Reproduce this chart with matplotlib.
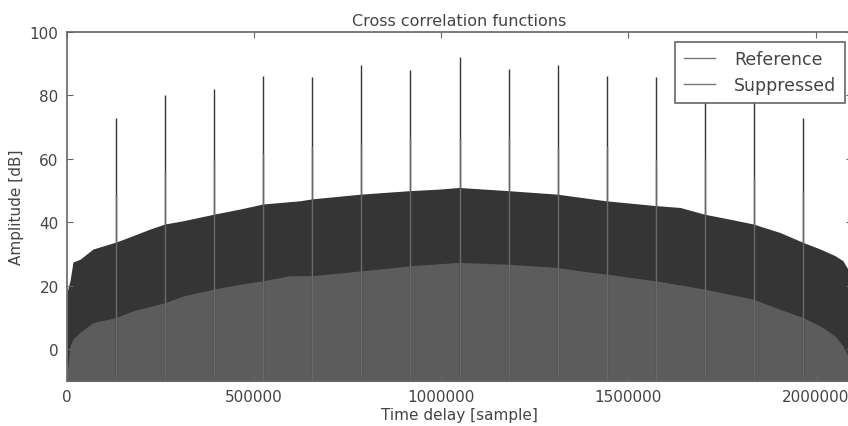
import matplotlib.pyplot as plt

# peak positions (multiples of 131072 samples) and heights in dB
peak_pos = [131072 * k for k in range(1, 16)]
ref_peaks = [72.8, 80.0, 82.0, 86.0, 85.8, 89.6, 88.0, 92.1, 88.2, 89.6, 86.0, 85.8, 82.0, 80.0, 72.8]
sup_peaks = [49.0, 56.0, 59.5, 62.0, 64.0, 64.6, 66.8, 66.6, 67.0, 63.5, 64.2, 59.5, 60.0, 54.0, 50.0]

# upper edge of the noise floor of each curve
ref_x = [0, 8000, 16000, 35000, 69500, 131000, 176000, 222000, 262000, 310000, 393000,
         462000, 524000, 622000, 654000, 785000, 916000, 996000, 1047000, 1178000,
         1309000, 1440000, 1571000, 1638000, 1702000, 1771000, 1833000, 1905000,
         1966000, 2012000, 2052000, 2073000, 2086000, 2097000]
ref_y = [18.0, 21.6, 27.5, 28.4, 31.6, 33.8, 35.8, 37.9, 39.5, 40.5, 42.6,
         44.2, 45.8, 46.8, 47.4, 48.9, 50.0, 50.5, 51.0, 50.0,
         48.9, 46.8, 45.3, 44.7, 42.6, 41.0, 39.5, 36.8,
         33.7, 31.6, 29.5, 27.9, 25.3, 18.0]

sup_x = [0, 8000, 16000, 35000, 69500, 131000, 176000, 262000, 310000, 393000, 462000,
         524000, 596000, 654000, 785000, 916000, 1047000, 1178000, 1309000, 1371000,
         1440000, 1571000, 1702000, 1833000, 1905000, 1966000, 2012000, 2052000,
         2073000, 2086000, 2097000]
sup_y = [-8.0, 1.0, 3.2, 5.4, 8.4, 10.0, 12.1, 14.7, 16.8, 19.0, 20.5,
         21.6, 23.2, 23.2, 24.7, 26.3, 27.4, 26.8, 25.8, 24.7,
         23.7, 21.6, 19.0, 15.8, 12.6, 10.0, 7.4, 4.2,
         1.0, -2.0, -8.0]

ref_color = '#353535'
sup_color = '#5c5c5c'
text_color = '#444444'
edge_color = '#666666'
floor = -20

fig = plt.figure(figsize=(8.48, 4.27), dpi=100)
ax = fig.add_axes([67 / 848, 45 / 427, 785 / 848, 349 / 427])

ax.fill_between(ref_x, floor, ref_y, color=ref_color, linewidth=0)
ax.vlines(peak_pos, floor, ref_peaks, color=ref_color, linewidth=1.0)
ax.fill_between(sup_x, floor, sup_y, color=sup_color, linewidth=0)
ax.vlines(peak_pos, floor, sup_peaks, color='#6a6a6a', linewidth=1.0)

# legend handles
ax.plot([], [], color='#777777', linewidth=1, label='Reference')
ax.plot([], [], color='#777777', linewidth=1, label='Suppressed')

ax.set_xlim(0, 2097152)
ax.set_ylim(-10, 100)
ax.set_xticks([0, 500000, 1000000, 1500000, 2000000])
ax.set_yticks([0, 20, 40, 60, 80, 100])
ax.ticklabel_format(axis='x', style='plain', useOffset=False)
ax.tick_params(direction='in', top=True, right=True, length=4, color=edge_color,
               labelsize=11, labelcolor=text_color, pad=6)
for sp in ax.spines.values():
    sp.set_color(edge_color)
    sp.set_linewidth(1.2)

ax.set_title('Cross correlation functions', fontsize=11.5, color=text_color, pad=5)
ax.set_xlabel('Time delay [sample]', fontsize=11, color=text_color, labelpad=2)
ax.set_ylabel('Amplitude [dB]', fontsize=11, color=text_color, labelpad=4)

leg = ax.legend(loc='upper right', bbox_to_anchor=(845 / 848, 1 - 42.5 / 427),
                bbox_transform=fig.transFigure, fontsize=12.5, fancybox=False,
                framealpha=1, edgecolor=edge_color, handlelength=1.8,
                handletextpad=1.1, borderaxespad=0, labelspacing=0.45,
                borderpad=0.5)
for t in leg.get_texts():
    t.set_color(text_color)
leg.get_frame().set_linewidth(1.2)

fig.savefig('out.png', dpi=100)
